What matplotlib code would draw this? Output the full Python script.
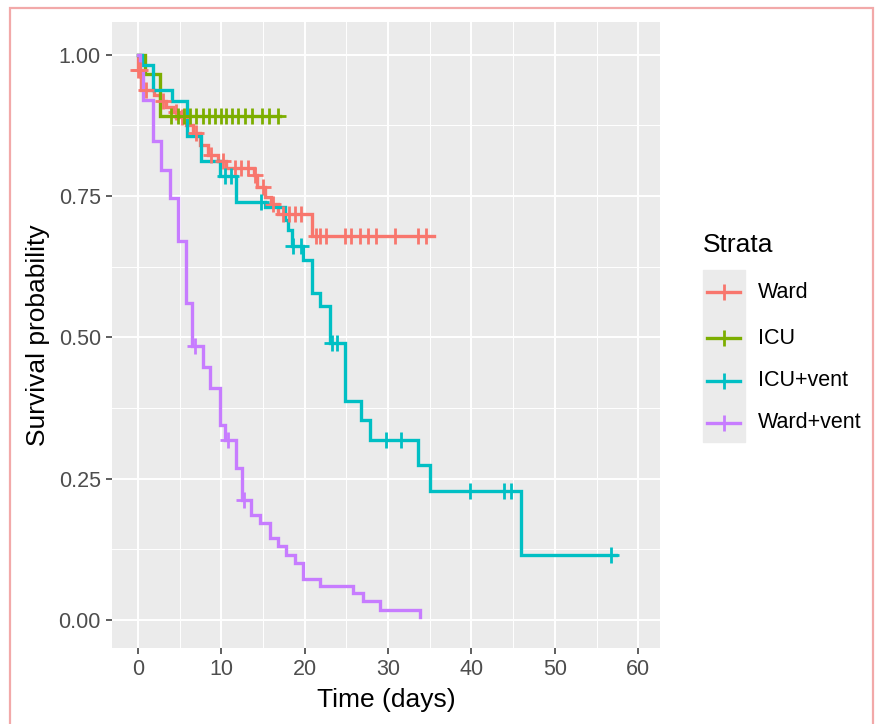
import numpy as np
import matplotlib
matplotlib.use("Agg")
import matplotlib.pyplot as plt
from matplotlib.lines import Line2D
from matplotlib.patches import Rectangle

plt.rcParams['font.family'] = ['Liberation Sans', 'DejaVu Sans']

# Kaplan-Meier steps (time in days, survival after the step)
strata = ['Ward', 'ICU', 'ICU+vent', 'Ward+vent']
colors = ['#F8766D', '#7CAE00', '#00BFC4', '#C77CFF']

ward_t = [0, 0, 0.4, 1.9, 2.6, 3.4, 4.2, 5.0, 5.8, 6.6, 7.4, 8.4, 9.6, 10.6,
          13.9, 14.3, 15.2, 16.0, 16.8, 20.9, 35.5]
ward_s = [1.0, 0.973, 0.938, 0.929, 0.918, 0.908, 0.899, 0.889, 0.876, 0.862,
          0.840, 0.823, 0.812, 0.800, 0.788, 0.766, 0.748, 0.735, 0.718, 0.680, 0.680]
ward_cens = [0, 0.3, 1.0, 3.0, 4.6, 5.3, 7.0, 8.8, 10.2, 11.6, 12.4, 13.2, 14.0,
             15.0, 16.2, 17.4, 18.1, 18.8, 19.6, 21.3, 21.8, 22.6, 24.8, 25.6,
             26.6, 27.6, 28.6, 30.8, 33.6, 34.6]

icu_t = [0, 0.9, 2.7, 17.0]
icu_s = [1.0, 0.966, 0.892, 0.892]
icu_cens = [4.0, 4.8, 5.5, 6.3, 7.0, 7.8, 8.5, 9.3, 10.0, 10.6, 11.3, 12.0,
            12.8, 13.7, 14.9, 15.7, 16.8]

icuv_t = [0, 0.5, 1.8, 4.1, 5.9, 7.6, 9.8, 11.8, 15.3, 17.7, 18.0, 18.5, 19.8,
          20.9, 21.8, 23.0, 24.8, 26.8, 27.8, 33.6, 35.0, 45.9, 57.3]
icuv_s = [1.0, 0.982, 0.938, 0.918, 0.856, 0.812, 0.785, 0.740, 0.730, 0.708,
          0.690, 0.662, 0.637, 0.578, 0.555, 0.490, 0.388, 0.354, 0.319, 0.274,
          0.228, 0.114, 0.114]
icuv_cens = [10.4, 11.2, 14.8, 18.6, 19.6, 23.3, 23.9, 29.8, 31.6, 39.8, 43.9,
             44.7, 56.7]

wardv_t = [0, 0.3, 0.6, 1.8, 2.8, 3.9, 4.8, 5.8, 6.5, 7.8, 8.6, 9.8, 10.5, 11.8,
           12.5, 13.6, 14.6, 15.8, 16.8, 17.8, 18.8, 19.8, 21.8, 25.8, 27.0,
           29.0, 33.8]
wardv_s = [1.0, 0.97, 0.92, 0.847, 0.796, 0.746, 0.670, 0.560, 0.484, 0.448,
           0.410, 0.345, 0.319, 0.268, 0.212, 0.186, 0.171, 0.145, 0.130, 0.115,
           0.101, 0.072, 0.059, 0.047, 0.034, 0.0165, 0.005]
wardv_cens = [6.8, 10.8, 12.7]

curves = [(ward_t, ward_s, ward_cens), (icu_t, icu_s, icu_cens),
          (icuv_t, icuv_s, icuv_cens), (wardv_t, wardv_s, wardv_cens)]

x_ticks = [0, 10, 20, 30, 40, 50, 60]
y_ticks = [0, 0.25, 0.5, 0.75, 1.0]
y_ticklabels = ['0.00', '0.25', '0.50', '0.75', '1.00']

W, H = 880, 724
fig = plt.figure(figsize=(W / 100, H / 100), dpi=100)
ax = fig.add_axes([112 / W, 1 - 648 / H, (660 - 112) / W, (648 - 22) / H])
ax.set_facecolor('#EBEBEB')

# ggplot grey theme grid
ax.set_xticks(x_ticks)
ax.set_yticks(y_ticks)
ax.set_yticklabels(y_ticklabels)
ax.set_xticks([5, 15, 25, 35, 45, 55], minor=True)
ax.set_yticks([0.125, 0.375, 0.625, 0.875], minor=True)
ax.set_xlim(-3.1, 62.6)
ax.set_ylim(-0.05, 1.058)
ax.grid(True, which='major', color='white', lw=1.4)
ax.grid(True, which='minor', color='white', lw=0.7)
ax.set_axisbelow(True)
for s in ax.spines.values():
    s.set_visible(False)
ax.tick_params(which='major', length=4, width=1.1, color='#333333',
               labelcolor='#4D4D4D', labelsize=15.5, pad=4)
ax.tick_params(which='minor', length=0)

for (t, s, cens), col in zip(curves, colors):
    ax.step(t, s, where='post', color=col, lw=2.4, solid_joinstyle='miter')
for (t, s, cens), col in zip(curves, colors):
    idx = np.searchsorted(t, cens, side='right') - 1
    cy = np.array(s)[np.clip(idx, 0, None)]
    ax.plot(cens, cy, ls='none', marker='+', ms=12, mew=2.0, color=col)

ax.set_xlabel('Time (days)', fontsize=19, labelpad=6)
ax.set_ylabel('Survival probability', fontsize=19, labelpad=6)

# legend drawn by hand, ggplot style
fig.text(703 / W, 1 - 245 / H, 'Strata', fontsize=19, va='center', ha='left')
fig.add_artist(Rectangle((703 / W, 1 - 442 / H), 42 / W, 172 / H,
                         transform=fig.transFigure, color='#EBEBEB', zorder=0))
key_y = [292, 338, 381, 423]
for lab, col, ky in zip(strata, colors, key_y):
    yy = 1 - ky / H
    fig.add_artist(Line2D([707 / W, 740 / W], [yy, yy], color=col, lw=2.4,
                          transform=fig.transFigure))
    fig.add_artist(Line2D([723.5 / W], [yy], color=col, marker='+', ms=12,
                          mew=2.0, transform=fig.transFigure))
    fig.text(758 / W, yy, lab, fontsize=15.5, va='center', ha='left')

# pink outer frame
fig.add_artist(Rectangle((10 / W, -0.02), (873 - 10) / W, 1.02 - 8 / H,
                         transform=fig.transFigure, fill=False,
                         edgecolor='#F2A9A9', lw=1.6))

fig.savefig('out.png', dpi=100)
